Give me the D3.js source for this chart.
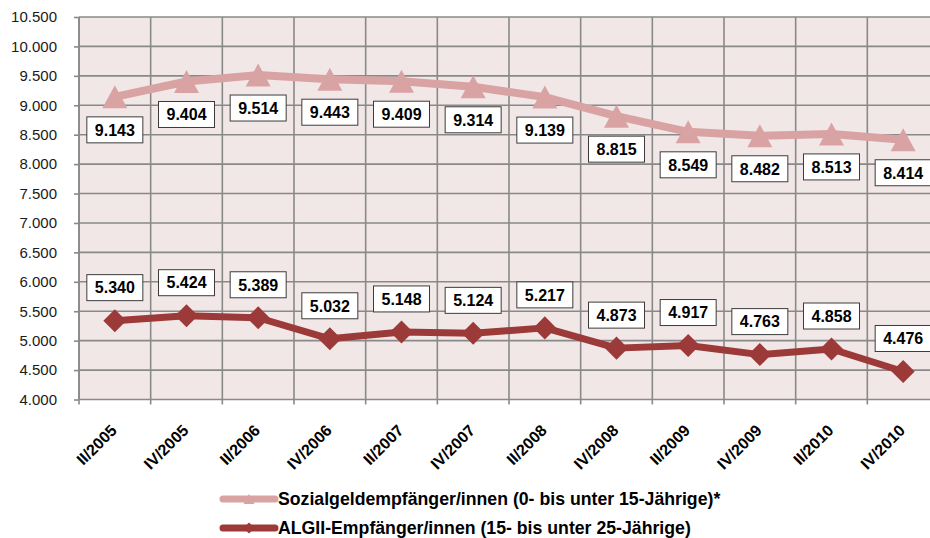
<!DOCTYPE html>
<meta charset="utf-8">
<style>

body {
  margin: 0;
  background: #fff;
  font-family: Arial, "Liberation Sans", sans-serif;
}

.axis path,
.axis line {
  fill: none;
  stroke: #898989;
  stroke-width: 1.6px;
}

.y.axis text {
  font-size: 15px;
  fill: #1a1a1a;
}

.x.axis text {
  font-size: 16px;
  font-weight: bold;
  fill: #000;
}

.grid line {
  stroke: #898989;
  stroke-width: 1.6px;
}

.label rect {
  fill: #fff;
  stroke: #3c3c3c;
  stroke-width: 1px;
}

.label text {
  font-size: 16px;
  font-weight: bold;
  fill: #000;
}

.legend text {
  font-size: 17.7px;
  font-weight: bold;
  fill: #000;
}

</style>
<body>
<script src="https://d3js.org/d3.v7.min.js"></script>
<script>

var quarters = ["II/2005", "IV/2005", "II/2006", "IV/2006", "II/2007", "IV/2007",
                "II/2008", "IV/2008", "II/2009", "IV/2009", "II/2010", "IV/2010"];

var sozialgeld = [9143, 9404, 9514, 9443, 9409, 9314, 9139, 8815, 8549, 8482, 8513, 8414];
var algii = [5340, 5424, 5389, 5032, 5148, 5124, 5217, 4873, 4917, 4763, 4858, 4476];

var yTicks = [4000, 4500, 5000, 5500, 6000, 6500, 7000, 7500, 8000, 8500, 9000, 9500, 10000, 10500];

var seriesNames = ["Sozialgeldempfänger/innen (0- bis unter 15-Jährige)*",
                   "ALGII-Empfänger/innen (15- bis unter 25-Jährige)"];

var margin = {top: 17, left: 79},
    width = 860,
    height = 382.5;

var fmt = function(v) { return d3.format(",")(v).replace(/,/g, "."); };

var svg = d3.select("body").append("svg")
    .attr("width", 930)
    .attr("height", 538);

var g = svg.append("g")
    .attr("transform", "translate(" + margin.left + "," + margin.top + ")");

var x = d3.scaleBand()
    .domain(quarters)
    .range([0, width]);

var y = d3.scaleLinear()
    .domain([4000, 10500])
    .range([height, 0]);

g.append("rect")
    .attr("width", width)
    .attr("height", height)
    .attr("fill", "#f2e7e7");

// grid
g.append("g")
    .attr("class", "grid")
  .selectAll("line.h")
    .data(yTicks)
  .enter().append("line")
    .attr("x1", 0)
    .attr("x2", width)
    .attr("y1", function(d) { return y(d); })
    .attr("y2", function(d) { return y(d); });

g.select(".grid").selectAll("line.v")
    .data(quarters)
  .enter().append("line")
    .attr("class", "v")
    .attr("x1", function(d) { return x(d); })
    .attr("x2", function(d) { return x(d); })
    .attr("y1", 0)
    .attr("y2", height);

var yAxis = g.append("g")
    .attr("class", "y axis")
    .call(d3.axisLeft(y).tickValues(yTicks).tickFormat(fmt).tickSize(5).tickPadding(17));
yAxis.select(".domain").remove();
yAxis.append("line").attr("y1", 0).attr("y2", height);

var xAxis = g.append("g")
    .attr("class", "x axis")
    .attr("transform", "translate(0," + height + ")")
    .call(d3.axisBottom(x).tickSizeOuter(0).tickSize(0));
xAxis.select(".domain").remove();
xAxis.selectAll(".tick line").remove();
xAxis.selectAll(".tick text")
    .attr("text-anchor", "end")
    .attr("dy", null)
    .attr("y", 0)
    .attr("transform", "translate(3,32) rotate(-45)");

// tick marks between categories
xAxis.selectAll("line.tk")
    .data(quarters.concat(["end"]))
  .enter().append("line")
    .attr("class", "tk")
    .attr("x1", function(d, i) { return i * x.step(); })
    .attr("x2", function(d, i) { return i * x.step(); })
    .attr("y1", 0)
    .attr("y2", 5);

var cx = function(d, i) { return x(quarters[i]) + x.bandwidth() / 2; };

var line = d3.line()
    .x(function(d, i) { return cx(d, i); })
    .y(function(d) { return y(d); });

var colors = ["#d9a3a3", "#9b3a38"];

function triangle(w, h) {
  return "M0," + (-h / 2) + "L" + (w / 2) + "," + (h / 2) + "L" + (-w / 2) + "," + (h / 2) + "Z";
}
var diamond = d3.symbol().type(d3.symbolSquare).size(265)();

function drawSeries(data, color, width, marker, rot, labelDy) {
  g.append("path")
      .datum(data)
      .attr("fill", "none")
      .attr("stroke", color)
      .attr("stroke-width", width)
      .attr("stroke-linejoin", "round")
      .attr("d", line);

  g.selectAll(null)
      .data(data)
    .enter().append("path")
      .attr("d", marker)
      .attr("fill", color)
      .attr("transform", function(d, i) { return "translate(" + cx(d, i) + "," + y(d) + ") rotate(" + rot + ")"; });

  var lab = g.selectAll(null)
      .data(data)
    .enter().append("g")
      .attr("class", "label")
      .attr("transform", function(d, i) { return "translate(" + cx(d, i) + "," + (y(d) + labelDy) + ")"; });
  lab.append("rect")
      .attr("x", -28)
      .attr("y", -13)
      .attr("width", 56)
      .attr("height", 26);
  lab.append("text")
      .attr("text-anchor", "middle")
      .attr("dy", "0.36em")
      .text(fmt);
}

drawSeries(sozialgeld, colors[0], 8, triangle(25, 23), 0, 33);
drawSeries(algii, colors[1], 7, diamond, 45, -33);

// legend
var legend = svg.selectAll(".legend")
    .data(seriesNames)
  .enter().append("g")
    .attr("class", "legend")
    .attr("transform", function(d, i) { return "translate(223," + (499 + i * 29) + ")"; });

legend.append("line")
    .attr("x1", 0)
    .attr("x2", 52)
    .attr("stroke", function(d, i) { return colors[i]; })
    .attr("stroke-width", 7)
    .attr("stroke-linecap", "round");

legend.append("path")
    .attr("d", function(d, i) { return i === 0 ? triangle(11, 10) : d3.symbol().type(d3.symbolSquare).size(60)(); })
    .attr("transform", function(d, i) { return "translate(26,0) rotate(" + (i === 0 ? 0 : 45) + ")"; })
    .attr("fill", function(d, i) { return colors[i]; });

legend.append("text")
    .attr("x", 55)
    .attr("dy", "0.36em")
    .text(function(d) { return d; });

</script>
